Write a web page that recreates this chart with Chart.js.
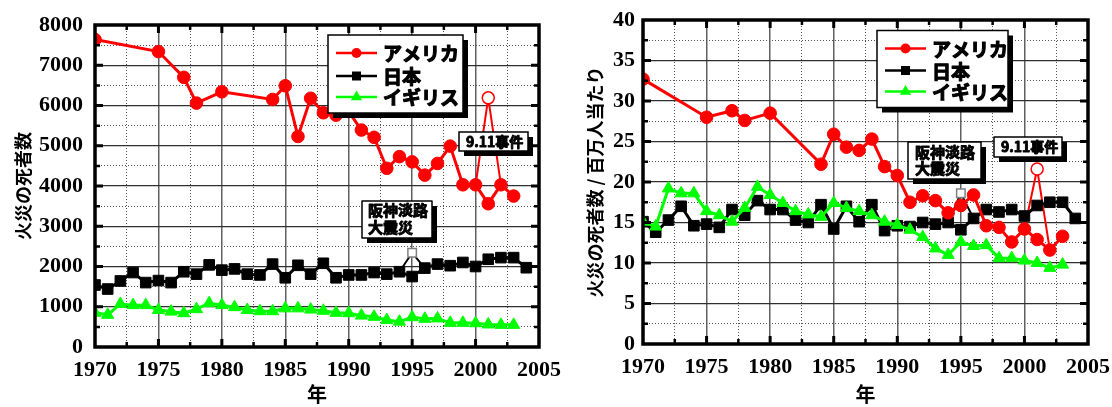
<!DOCTYPE html>
<html>
<head>
<meta charset="utf-8">
<script src="https://cdn.jsdelivr.net/npm/chart.js@4.4.0/dist/chart.umd.min.js"></script>
<style>
  html, body { margin: 0; padding: 0; background: #fff; }
  #wrap { position: relative; width: 1112px; height: 407px; overflow: hidden; }
  canvas { position: absolute; top: 0; }
  #c1 { left: 0; }
  #c2 { left: 560px; }
</style>
</head>
<body>
<div id="wrap">
  <canvas id="c1" width="575" height="407"></canvas>
  <canvas id="c2" width="552" height="407"></canvas>
</div>
<script>
// ---- data -------------------------------------------------------------
const years = [1970, 1971, 1972, 1973, 1974, 1975, 1976, 1977, 1978, 1979,
               1980, 1981, 1982, 1983, 1984, 1985, 1986, 1987, 1988, 1989,
               1990, 1991, 1992, 1993, 1994, 1995, 1996, 1997, 1998, 1999,
               2000, 2001, 2002, 2003, 2004];

// fire deaths
const usaDeaths = [7640, null, null, null, null, 7340, null, 6700, 6060, null,
                   6340, null, null, null, 6150, 6490, 5230, 6180, 5820, 5760,
                   5850, 5390, 5210, 4440, 4730, 4600, 4270, 4560, 4990, 4030,
                   4030, 3560, 4030, 3750, null];
const japanDeaths = [1540, 1440, 1640, 1850, 1600, 1650, 1600, 1870, 1810, 2040,
                     1910, 1940, 1810, 1790, 2060, 1720, 2030, 1810, 2080, 1720,
                     1790, 1790, 1850, 1810, 1870, 1750, 1960, 2060, 2020, 2100,
                     2000, 2180, 2220, 2220, 1970];
const ukDeaths = [850, 800, 1070, 1040, 1040, 920, 880, 840, 940, 1090,
                  1040, 990, 920, 890, 890, 960, 960, 930, 900, 850,
                  840, 780, 750, 670, 630, 740, 700, 710, 600, 600,
                  590, 560, 550, 550, null];

// fire deaths per million people
const usaRate = [32.7, null, null, null, null, 28.0, null, 28.8, 27.6, null,
                 28.5, null, null, null, 22.2, 25.9, 24.3, 23.9, 25.3, 21.9,
                 20.8, 17.5, 18.3, 17.7, 16.2, 17.1, 18.4, 14.6, 14.4, 12.6,
                 14.2, 12.9, 11.6, 13.3, null];
const japanRate = [15.1, 13.8, 15.3, 17.0, 14.6, 14.8, 14.4, 16.6, 15.9, 17.7,
                   16.6, 16.6, 15.3, 15.0, 17.2, 14.2, 17.0, 15.1, 17.2, 14.0,
                   14.6, 14.5, 15.0, 14.8, 15.0, 14.1, 15.5, 16.6, 16.3, 16.6,
                   15.8, 17.1, 17.5, 17.5, 15.5];
const ukRate = [15.1, 14.5, 19.2, 18.6, 18.6, 16.4, 15.9, 15.1, 16.8, 19.4,
                18.4, 17.4, 16.4, 16.0, 15.7, 17.4, 16.8, 16.4, 15.9, 15.1,
                14.7, 14.1, 13.2, 11.8, 11.0, 12.6, 12.1, 12.2, 10.6, 10.6,
                10.3, 10.0, 9.4, 9.8, null];

// totals including the two disasters (open markers)
const sept11Years = [2000, 2001, 2002];
const usaDeaths911 = [4030, 6190, 4030];
const usaRate911 = [14.2, 21.6, 11.6];
const kobeYears = [1994, 1995, 1996];
const japanDeathsKobe = [1870, 2340, 1960];
const japanRateKobe = [15.0, 18.6, 15.5];

const seriesLabels = ['アメリカ', '日本', 'イギリス'];
const xTickLabels = ['1970', '1975', '1980', '1985', '1990', '1995', '2000', '2005'];

// ---- styling ----------------------------------------------------------
const seriesColors = { 'アメリカ': '#ff0000', '日本': '#000000', 'イギリス': '#00ff00' };
const seriesMarkers = { 'アメリカ': 'circle', '日本': 'rect', 'イギリス': 'triangle' };
const markerRadius = { 'アメリカ': 6.3, '日本': 7.5, 'イギリス': 7 };
const JP = '"Noto Sans CJK JP", "Noto Sans", sans-serif';
const NUM = '"Liberation Serif", "DejaVu Serif", serif';

Chart.defaults.font.family = JP;
Chart.defaults.color = '#000';

const pts = (xs, ys) => xs.map((x, i) => ({ x, y: ys[i] }));
const isMultiple = (v, m) => Math.abs(v / m - Math.round(v / m)) < 1e-6;

function seriesDataset(label, values) {
  const c = seriesColors[label];
  return {
    label, data: pts(years, values),
    borderColor: c, backgroundColor: c, borderWidth: 3,
    pointStyle: seriesMarkers[label], pointRadius: markerRadius[label],
    pointBackgroundColor: c, pointBorderColor: c, pointBorderWidth: 1,
    spanGaps: true, tension: 0
  };
}

function eventDataset(xs, values, color, style, radius, ring) {
  return {
    label: '', data: pts(xs, values),
    borderColor: color, borderWidth: 2,
    pointStyle: style, pointRadius: [0, radius, 0],
    pointBackgroundColor: '#ffffff', pointBorderColor: ring, pointBorderWidth: 1.5,
    tension: 0
  };
}

function drawMarker(ctx, style, x, y, r) {
  ctx.beginPath();
  if (style === 'circle') {
    ctx.arc(x, y, r, 0, Math.PI * 2);
  } else if (style === 'rect') {
    ctx.rect(x - r, y - r, 2 * r, 2 * r);
  } else {
    ctx.moveTo(x, y - r);
    ctx.lineTo(x + r * 0.866, y + r * 0.5);
    ctx.lineTo(x - r * 0.866, y + r * 0.5);
    ctx.closePath();
  }
  ctx.fill();
}

// heavy gothic text: fill plus a thin outline of the same colour
function heavyText(ctx, s, x, y, w) {
  ctx.lineWidth = w;
  ctx.lineJoin = 'round';
  ctx.strokeStyle = ctx.fillStyle;
  ctx.strokeText(s, x, y);
  ctx.fillText(s, x, y);
}

// thick frame plus inward tick marks on all four sides
const framePlugin = {
  id: 'frame',
  afterDatasetsDraw(chart) {
    const { ctx, chartArea: a, scales: { x, y } } = chart;
    const yMajor = y.options.ticks.stepSize * 2;
    ctx.save();
    ctx.strokeStyle = '#000';
    x.ticks.forEach(t => {
      if (t.value <= x.min || t.value >= x.max) return;
      const major = isMultiple(t.value, 5);
      const px = x.getPixelForValue(t.value);
      const len = major ? 8 : 5;
      ctx.lineWidth = major ? 3 : 2.5;
      ctx.beginPath();
      ctx.moveTo(px, a.bottom); ctx.lineTo(px, a.bottom - len);
      ctx.moveTo(px, a.top); ctx.lineTo(px, a.top + len);
      ctx.stroke();
    });
    y.ticks.forEach(t => {
      if (t.value <= y.min || t.value >= y.max) return;
      const major = isMultiple(t.value, yMajor);
      const py = y.getPixelForValue(t.value);
      const len = major ? 8 : 5;
      ctx.lineWidth = major ? 3 : 2.5;
      ctx.beginPath();
      ctx.moveTo(a.left, py); ctx.lineTo(a.left + len, py);
      ctx.moveTo(a.right, py); ctx.lineTo(a.right - len, py);
      ctx.stroke();
    });
    ctx.lineWidth = 3.5;
    ctx.strokeRect(a.left, a.top, a.width, a.height);
    ctx.restore();
  }
};

// boxed legend with drop shadow
const keyPlugin = {
  id: 'key',
  afterDraw(chart, args, o) {
    const { ctx, chartArea: a } = chart;
    const l = a.left + o.dx, t = a.top + o.dy;
    ctx.save();
    ctx.fillStyle = '#000';
    ctx.fillRect(l + 5, t + 5, o.w, o.h);
    ctx.fillStyle = '#fff';
    ctx.fillRect(l, t, o.w, o.h);
    ctx.strokeStyle = '#000';
    ctx.lineWidth = 1.5;
    ctx.strokeRect(l, t, o.w, o.h);
    seriesLabels.forEach((lab, i) => {
      const ds = chart.data.datasets.find(d => d.label === lab);
      const yy = t + o.rows[i];
      ctx.strokeStyle = ds.borderColor;
      ctx.lineWidth = 2.5;
      ctx.beginPath();
      ctx.moveTo(l + 8, yy); ctx.lineTo(l + 49, yy);
      ctx.stroke();
      ctx.fillStyle = ds.borderColor;
      drawMarker(ctx, ds.pointStyle, l + 28.5, yy, o.marker[ds.pointStyle]);
      ctx.fillStyle = '#000';
      ctx.font = 'bold 19px ' + JP;
      ctx.textAlign = 'left';
      ctx.textBaseline = 'middle';
      heavyText(ctx, lab, l + 55, yy + 1, 1.1);
    });
    ctx.restore();
  }
};

// boxed callouts for the two disasters
const notesPlugin = {
  id: 'notes',
  afterDraw(chart, args, o) {
    const { ctx, scales: { x, y } } = chart;
    ctx.save();
    (o.items || []).forEach(n => {
      const cx = x.getPixelForValue(n.x), cy = y.getPixelForValue(n.y);
      const l = Math.round(cx - n.w / 2), t = Math.round(cy - n.h / 2);
      ctx.fillStyle = '#000';
      ctx.fillRect(l + 5, t + 5, n.w, n.h);
      ctx.fillStyle = '#fff';
      ctx.fillRect(l, t, n.w, n.h);
      ctx.strokeStyle = '#000';
      ctx.lineWidth = 1.5;
      ctx.strokeRect(l, t, n.w, n.h);
      ctx.fillStyle = '#000';
      ctx.font = 'bold ' + n.size + 'px ' + JP;
      ctx.textAlign = 'left';
      ctx.textBaseline = 'middle';
      n.lines.forEach((s, i) => heavyText(ctx, s, l + n.padX, t + n.firstLine + i * n.lineGap, 0.9));
    });
    ctx.restore();
  }
};

function buildChart(id, g) {
  const yMajor = g.yStep * 2;
  return new Chart(document.getElementById(id), {
    type: 'line',
    data: {
      datasets: [
        seriesDataset('アメリカ', g.usa),
        seriesDataset('イギリス', g.uk),
        seriesDataset('日本', g.japan),
        eventDataset(sept11Years, g.usa911, '#ff0000', 'circle', 6, '#ff0000'),
        eventDataset(kobeYears, g.kobe, '#000000', 'rect', 6, '#808080')
      ]
    },
    plugins: [framePlugin, keyPlugin, notesPlugin],
    options: {
      responsive: false,
      animation: false,
      events: [],
      layout: { padding: { top: g.top, right: g.right, left: 0, bottom: 0 } },
      plugins: {
        legend: { display: false },
        tooltip: { enabled: false },
        key: g.key,
        notes: { items: g.notes }
      },
      scales: {
        x: {
          type: 'linear', min: 1970, max: 2005,
          afterFit(s) { s.height = g.xHeight; s.paddingLeft = 0; s.paddingRight = 0; },
          ticks: {
            stepSize: 2.5, autoSkip: false, maxRotation: 0, padding: 10,
            font: { family: NUM, weight: 'bold', size: 22 },
            color: '#000',
            callback: v => xTickLabels.includes(String(v)) ? String(v) : ''
          },
          grid: {
            drawTicks: false,
            color: c => isMultiple(c.tick.value, 5) ? '#606060' : '#555555',
            lineWidth: c => isMultiple(c.tick.value, 5) ? 1.5 : 1
          },
          border: { display: false, dash: c => isMultiple(c.tick.value, 5) ? [] : [1, 2] },
          title: {
            display: true, text: '年',
            font: { family: JP, weight: 'bold', size: 20 },
            padding: { top: 0, bottom: 1 }
          }
        },
        y: {
          type: 'linear', min: 0, max: g.yMax,
          afterFit(s) { s.width = g.yWidth; s.paddingTop = 0; s.paddingBottom = 0; },
          ticks: {
            stepSize: g.yStep, autoSkip: false, padding: g.yPad,
            font: { family: NUM, weight: 'bold', size: 22 },
            color: '#000',
            callback: v => isMultiple(v, yMajor) ? String(v) : ''
          },
          grid: {
            drawTicks: false,
            color: c => isMultiple(c.tick.value, yMajor) ? '#303030' : '#555555',
            lineWidth: c => isMultiple(c.tick.value, yMajor) ? 1.2 : 1
          },
          border: { display: false, dash: c => isMultiple(c.tick.value, yMajor) ? [] : [1, 2] },
          title: {
            display: true, text: g.yTitle,
            font: { family: JP, weight: 'bold', size: 18 },
            padding: { top: g.yTitlePad, bottom: 0 }
          }
        }
      }
    }
  });
}

function drawAll() {
  buildChart('c1', {
    usa: usaDeaths, japan: japanDeaths, uk: ukDeaths,
    usa911: usaDeaths911, kobe: japanDeathsKobe,
    yMax: 8000, yStep: 500, yWidth: 95, yPad: 12, xHeight: 60,
    top: 25, right: 36, yTitle: '火災の死者数', yTitlePad: 12,
    key: { dx: 233, dy: 10, w: 135, h: 78, rows: [18, 41, 62],
           marker: { circle: 5, rect: 4.5, triangle: 6.5 } },
    notes: [
      { lines: ['9.11事件'], x: 2001.41, y: 5106, w: 69, h: 19, size: 14, padX: 7, firstLine: 9.5, lineGap: 0 },
      { lines: ['阪神淡路', '大震災'], x: 1993.81, y: 3180, w: 70, h: 37, size: 15, padX: 6, firstLine: 9.5, lineGap: 16.5 }
    ]
  });
  buildChart('c2', {
    usa: usaRate, japan: japanRate, uk: ukRate,
    usa911: usaRate911, kobe: japanRateKobe,
    yMax: 40, yStep: 2.5, yWidth: 83, yPad: 8, xHeight: 63,
    top: 20, right: 24, yTitle: '火災の死者数 / 百万人当たり', yTitlePad: 24,
    key: { dx: 234, dy: 10.5, w: 131, h: 77, rows: [18, 40, 61],
           marker: { circle: 5, rect: 4.5, triangle: 6.5 } },
    notes: [
      { lines: ['阪神淡路', '大震災'], x: 1993.71, y: 22.63, w: 73, h: 37, size: 15, padX: 7, firstLine: 10, lineGap: 16.5 },
      { lines: ['9.11事件'], x: 2000.28, y: 24.36, w: 68, h: 20, size: 14, padX: 7, firstLine: 10, lineGap: 0 }
    ]
  });
}

Promise.all([
  document.fonts.load('bold 19px "Noto Sans CJK JP"', '火災日本'),
  document.fonts.load('bold 21px "Liberation Serif"', '0123456789')
]).catch(() => {}).then(drawAll);
</script>
</body>
</html>
